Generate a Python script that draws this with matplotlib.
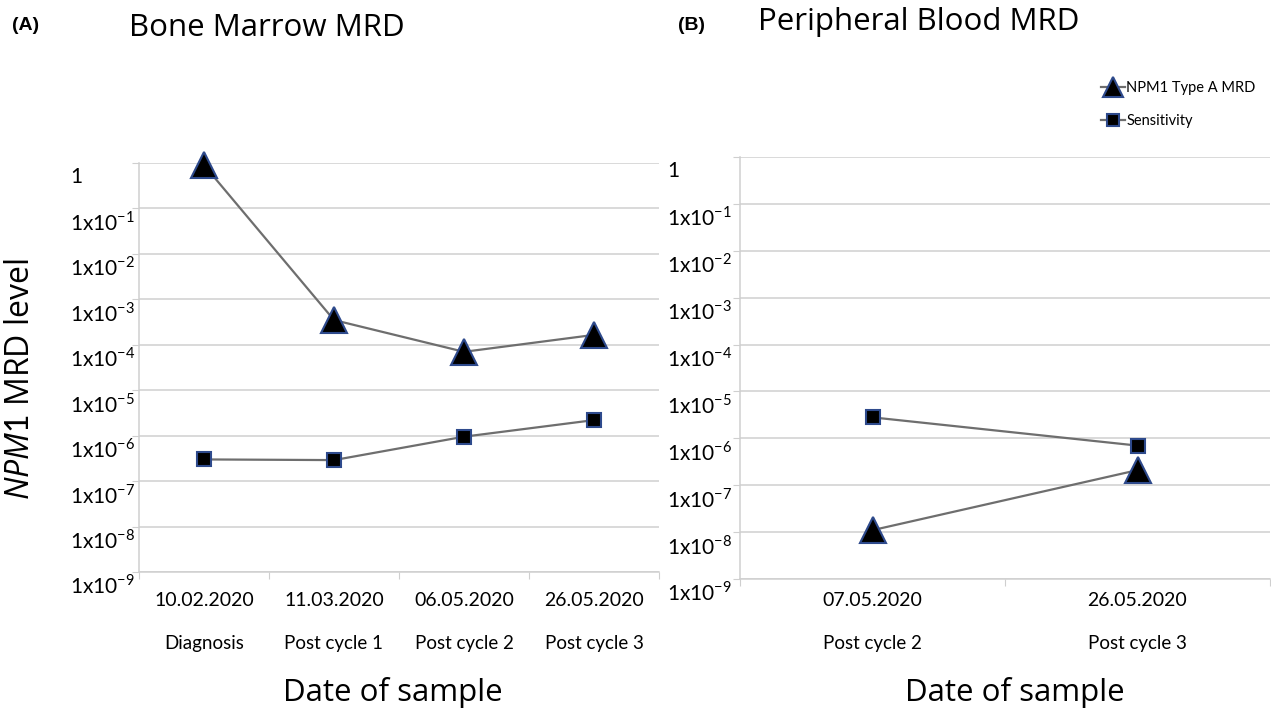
import matplotlib
matplotlib.use("Agg")
import matplotlib.pyplot as plt
import matplotlib.transforms as mtransforms
from matplotlib.lines import Line2D

# ---- data ----
bm_dates = ["10.02.2020", "11.03.2020", "06.05.2020", "26.05.2020"]
bm_stage = ["Diagnosis", "Post cycle 1", "Post cycle 2", "Post cycle 3"]
bm_mrd = [0.9, 3.5e-4, 7e-5, 1.65e-4]
bm_sens = [3.0e-7, 2.9e-7, 9.5e-7, 2.2e-6]

pb_dates = ["07.05.2020", "26.05.2020"]
pb_stage = ["Post cycle 2", "Post cycle 3"]
pb_mrd = [1.1e-8, 2.1e-7]
pb_sens = [2.8e-6, 7.0e-7]

yticks = [1e0, 1e-1, 1e-2, 1e-3, 1e-4, 1e-5, 1e-6, 1e-7, 1e-8, 1e-9]
ylabels = ["1"] + [r"1x10$^{-%d}$" % k for k in range(1, 10)]

plt.rcParams["font.family"] = ["Lato", "DejaVu Sans"]
plt.rcParams["mathtext.fontset"] = "custom"
plt.rcParams["mathtext.rm"] = "Lato"
plt.rcParams["mathtext.it"] = "Open Sans:italic"

W, H = 1271, 710
fig = plt.figure(figsize=(W / 100, H / 100), dpi=100)

line_col = "#6e6e6e"
edge_col = "#2e4a8c"
grid_col = "#cfcfcf"


def px_rect(left, top, right, bottom):
    return [left / W, 1 - bottom / H, (right - left) / W, (bottom - top) / H]


def draw_panel(rect, dates, stage, mrd, sens, label_x, date_y, stage_y):
    ax = fig.add_axes(rect)
    x = list(range(len(dates)))
    ax.set_yscale("log")
    ax.set_ylim(1e-9, 1)
    ax.set_xlim(-0.5, len(dates) - 0.5)

    ax.plot(x, sens, color=line_col, lw=1.6, marker="s", ms=10,
            mfc="black", mec=edge_col, mew=1.5, clip_on=False, zorder=3)
    ax.plot(x, mrd, color=line_col, lw=1.6, marker="^", ms=19,
            mfc="black", mec=edge_col, mew=1.5, clip_on=False, zorder=4)

    ax.set_yticks(yticks)
    ax.yaxis.set_minor_locator(plt.NullLocator())
    ax.set_yticklabels([])
    ax.tick_params(axis="y", length=5, color=grid_col)
    ax.grid(axis="y", color=grid_col, lw=1.1)
    ax.set_axisbelow(True)

    ax.set_xticks([i - 0.5 for i in range(len(dates) + 1)])
    ax.set_xticklabels([])
    ax.tick_params(axis="x", length=5, color=grid_col)

    for s in ["top", "right"]:
        ax.spines[s].set_visible(False)
    for s in ["left", "bottom"]:
        ax.spines[s].set_color(grid_col)
        ax.spines[s].set_linewidth(1.1)

    # y tick labels, left aligned and sitting a bit below their gridline
    ytrans = mtransforms.blended_transform_factory(fig.transFigure, ax.transData)
    ytrans = ytrans + mtransforms.ScaledTranslation(0, -0.14, fig.dpi_scale_trans)
    for v, lab in zip(yticks, ylabels):
        ax.text(label_x / W, v, lab, transform=ytrans, ha="left", va="center",
                fontsize=15, color="black")

    xtrans = mtransforms.blended_transform_factory(ax.transData, fig.transFigure)
    for i in x:
        ax.text(i, 1 - date_y / H, dates[i], transform=xtrans, ha="center",
                va="center", fontsize=14)
        ax.text(i, 1 - stage_y / H, stage[i], transform=xtrans, ha="center",
                va="center", fontsize=13.5)
    return ax


axA = draw_panel(px_rect(139, 163, 659, 572), bm_dates, bm_stage, bm_mrd, bm_sens,
                 70, 600, 643)
axB = draw_panel(px_rect(740, 157, 1270, 579), pb_dates, pb_stage, pb_mrd, pb_sens,
                 667, 600, 643)

fig.text(12 / W, 1 - 25 / H, "(A)", fontsize=14, fontweight="bold",
         family="Liberation Sans", va="center")
fig.text(678 / W, 1 - 25 / H, "(B)", fontsize=14, fontweight="bold",
         family="Liberation Sans", va="center")
fig.text(267 / W, 1 - 28 / H, "Bone Marrow MRD", fontsize=22.5, family="Open Sans",
         ha="center", va="center")
fig.text(919 / W, 1 - 22 / H, "Peripheral Blood MRD", fontsize=22.5, family="Open Sans",
         ha="center", va="center")
fig.text(393 / W, 1 - 693 / H, "Date of sample", fontsize=22.5, family="Open Sans",
         ha="center", va="center")
fig.text(1015 / W, 1 - 693 / H, "Date of sample", fontsize=22.5, family="Open Sans",
         ha="center", va="center")
fig.text(21 / W, 1 - 379 / H, r"$\it{NPM1}$ MRD level", fontsize=23,
         family="Open Sans", rotation=90, ha="center", va="center")

handles = [
    Line2D([], [], color=line_col, lw=1.6, marker="^", ms=14, mfc="black",
           mec=edge_col, mew=1.5),
    Line2D([], [], color=line_col, lw=1.6, marker="s", ms=8, mfc="black",
           mec=edge_col, mew=1.5),
]
fig.legend(handles, ["NPM1 Type A MRD", "Sensitivity"], loc="upper left",
           bbox_to_anchor=(1094 / W, 1 - 74 / H), frameon=False, fontsize=10.5,
           handlelength=1.6, handletextpad=0.1, labelspacing=1.3, borderpad=0)

fig.savefig("out.png", dpi=100)
